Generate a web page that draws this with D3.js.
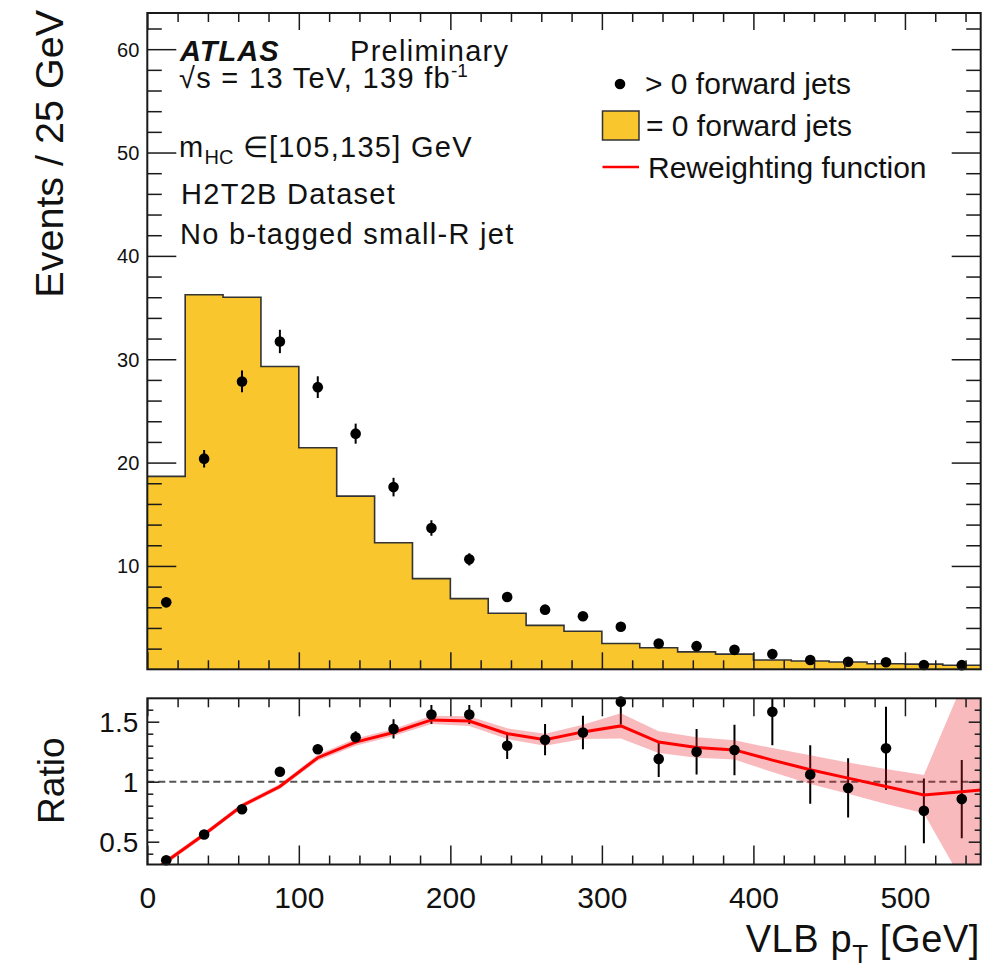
<!DOCTYPE html>
<html>
<head>
<meta charset="utf-8">
<script src="https://cdn.jsdelivr.net/npm/d3@7"></script>
<style>
  html, body { margin: 0; padding: 0; background: #fff; }
  svg { display: block; font-family: "Liberation Sans", Arial, Helvetica, sans-serif; }
</style>
</head>
<body>
<svg id="chart" width="1001" height="968"></svg>
<script>
// ---------------- data ----------------
// bin centres of the 25 GeV wide VLB pT bins
const binCenters = [12.5, 37.5, 62.5, 87.5, 112.5, 137.5, 162.5, 187.5, 212.5, 237.5, 262.5,
                    287.5, 312.5, 337.5, 362.5, 387.5, 412.5, 437.5, 462.5, 487.5, 512.5, 537.5];
const binWidth = 25;

// events with = 0 forward jets (filled histogram)
const zeroFwd = [18.67, 36.24, 36.0, 29.3, 21.44, 16.76, 12.25, 8.77, 6.84, 5.42, 4.25,
                 3.68, 2.5, 2.08, 1.69, 1.47, 0.9, 0.8, 0.7, 0.54, 0.5, 0.39];

// events with > 0 forward jets (points) and their uncertainties
const gtZeroFwd = [6.48, 20.38, 27.85, 31.72, 27.3, 22.8, 17.63, 13.67, 10.64, 6.99, 5.77,
                   5.14, 4.12, 2.5, 2.24, 1.88, 1.47, 0.9, 0.73, 0.68, 0.41, 0.4];
const gtZeroErr = [0.45, 0.85, 1.05, 1.13, 1.05, 0.97, 0.9, 0.75, 0.6, 0.45, 0.4,
                   0.38, 0.35, 0.3, 0.28, 0.25, 0.22, 0.2, 0.18, 0.18, 0.15, 0.13];

// ratio (> 0 / = 0) and its uncertainty
const ratio = [0.345, 0.56, 0.77, 1.083, 1.27, 1.37, 1.44, 1.56, 1.56, 1.30, 1.35,
               1.41, 1.667, 1.19, 1.25, 1.264, 1.583, 1.06, 0.948, 1.278, 0.757, 0.855];
const ratioErr = [0.03, 0.03, 0.03, 0.03, 0.04, 0.05, 0.08, 0.08, 0.08, 0.11, 0.13,
                  0.14, 0.19, 0.15, 0.19, 0.21, 0.28, 0.243, 0.247, 0.347, 0.27, 0.326];

// reweighting function nodes with its uncertainty band
const fitX    = [0, 12.5, 37.5, 62.5, 87.5, 112.5, 137.5, 162.5, 187.5, 212.5, 237.5, 262.5,
                 287.5, 312.5, 337.5, 362.5, 387.5, 412.5, 437.5, 462.5, 487.5, 512.5, 537.5, 550];
const fitVal  = [0.215, 0.335, 0.56, 0.80, 0.96, 1.20, 1.33, 1.41, 1.515, 1.505, 1.40, 1.35,
                 1.415, 1.465, 1.33, 1.285, 1.265, 1.18, 1.10, 1.03, 0.96, 0.89, 0.917, 0.93];
const fitLow  = [0.195, 0.315, 0.54, 0.78, 0.94, 1.175, 1.30, 1.38, 1.48, 1.465, 1.355, 1.30,
                 1.355, 1.36, 1.24, 1.20, 1.185, 1.08, 0.98, 0.90, 0.815, 0.737, 0.18, -0.1];
const fitHigh = [0.235, 0.355, 0.58, 0.82, 0.98, 1.225, 1.36, 1.44, 1.55, 1.545, 1.445, 1.40,
                 1.475, 1.57, 1.42, 1.37, 1.345, 1.28, 1.22, 1.16, 1.105, 1.056, 1.80, 2.2];

// axis ticks
const xMajor = [0, 100, 200, 300, 400, 500];
const xMinor = [20, 40, 60, 80, 120, 140, 160, 180, 220, 240, 260, 280, 320, 340, 360, 380,
                420, 440, 460, 480, 520, 540];
const yTopMajor = [10, 20, 30, 40, 50, 60];
const yTopMinor = [2, 4, 6, 8, 12, 14, 16, 18, 22, 24, 26, 28, 32, 34, 36, 38, 42, 44, 46, 48,
                   52, 54, 56, 58, 62];
const yRatMajor = [0.5, 1, 1.5];
const yRatMinor = [0.4, 0.6, 0.7, 0.8, 0.9, 1.1, 1.2, 1.3, 1.4, 1.6];
const yRatLabels = ["0.5", "1", "1.5"];

// ---------------- layout ----------------
const frameL = 147.3, frameR = 980.7;
const topP = { top: 13, bottom: 669.3 };
const ratP = { top: 698.3, bottom: 864.5 };

const x = d3.scaleLinear().domain([0, 550]).range([frameL, frameR]);
const yTop = d3.scaleLinear().domain([0, 63.5]).range([topP.bottom, topP.top]);
const yRat = d3.scaleLinear().domain([0.31, 1.695]).range([ratP.bottom, ratP.top]);

const svg = d3.select("#chart");
const ink = "#1a1a1a";
const yellow = "#f9c62d";

const defs = svg.append("defs");
defs.append("clipPath").attr("id", "clipTop").append("rect")
  .attr("x", frameL).attr("y", topP.top).attr("width", frameR - frameL).attr("height", topP.bottom - topP.top);
defs.append("clipPath").attr("id", "clipRat").append("rect")
  .attr("x", frameL).attr("y", ratP.top).attr("width", frameR - frameL).attr("height", ratP.bottom - ratP.top);

// ---------------- top panel ----------------
const gTop = svg.append("g").attr("clip-path", "url(#clipTop)");

const histPts = zeroFwd.map((v, i) => ({ lo: binCenters[i] - binWidth / 2, v }));
histPts.push({ lo: binCenters[binCenters.length - 1] + binWidth / 2, v: zeroFwd[zeroFwd.length - 1] });

gTop.append("path")
  .datum(histPts)
  .attr("fill", yellow)
  .attr("d", d3.area().curve(d3.curveStepAfter).x(d => x(d.lo)).y0(yTop(0)).y1(d => yTop(d.v)));
gTop.append("path")
  .datum(histPts)
  .attr("fill", "none").attr("stroke", "#333").attr("stroke-width", 1.6)
  .attr("d", d3.line().curve(d3.curveStepAfter).x(d => x(d.lo)).y(d => yTop(d.v)));

gTop.selectAll("line.err").data(binCenters).join("line")
  .attr("class", "err")
  .attr("x1", d => x(d)).attr("x2", d => x(d))
  .attr("y1", (d, i) => yTop(gtZeroFwd[i] - gtZeroErr[i]))
  .attr("y2", (d, i) => yTop(gtZeroFwd[i] + gtZeroErr[i]))
  .attr("stroke", "#000").attr("stroke-width", 2);

svg.append("g").selectAll("circle").data(binCenters).join("circle")
  .attr("cx", d => x(d)).attr("cy", (d, i) => yTop(gtZeroFwd[i]))
  .attr("r", 5.3).attr("fill", "#000");

// ---------------- ratio panel ----------------
const gRat = svg.append("g").attr("clip-path", "url(#clipRat)");

gRat.append("line")
  .attr("x1", frameL).attr("x2", frameR).attr("y1", yRat(1)).attr("y2", yRat(1))
  .attr("stroke", "#555").attr("stroke-width", 2).attr("stroke-dasharray", "7,4");

gRat.selectAll("line.err").data(binCenters).join("line")
  .attr("class", "err")
  .attr("x1", d => x(d)).attr("x2", d => x(d))
  .attr("y1", (d, i) => yRat(ratio[i] - ratioErr[i]))
  .attr("y2", (d, i) => yRat(ratio[i] + ratioErr[i]))
  .attr("stroke", "#000").attr("stroke-width", 2);

svg.append("g").selectAll("circle").data(binCenters).join("circle")
  .attr("cx", d => x(d)).attr("cy", (d, i) => yRat(ratio[i]))
  .attr("r", 5.3).attr("fill", "#000");

// uncertainty band of the reweighting function, drawn translucent over the points
gRat.append("path")
  .datum(fitX)
  .attr("fill", "rgba(235,25,40,0.3)")
  .attr("d", d3.area().x(d => x(d)).y0((d, i) => yRat(fitLow[i])).y1((d, i) => yRat(fitHigh[i])));

gRat.append("path")
  .datum(fitX)
  .attr("fill", "none").attr("stroke", "#ff0000").attr("stroke-width", 3)
  .attr("d", d3.line().x(d => x(d)).y((d, i) => yRat(fitVal[i])));

// ---------------- axes and frames ----------------
function strip(g) {
  g.select(".domain").remove();
  g.selectAll(".tick line").attr("stroke", ink).attr("stroke-width", 1.5);
  return g;
}
function tickSet(axisFn, scale, vals, len, tx, ty, labels) {
  const a = axisFn(scale).tickValues(vals).tickSizeInner(-len).tickSizeOuter(0);
  if (!labels) a.tickFormat("");
  const g = svg.append("g").attr("transform", `translate(${tx},${ty})`).call(a);
  return strip(g);
}

// top panel ticks
tickSet(d3.axisBottom, x, xMajor, 17, 0, topP.bottom);
tickSet(d3.axisBottom, x, xMinor, 9, 0, topP.bottom);
tickSet(d3.axisTop, x, xMajor, 17, 0, topP.top);
tickSet(d3.axisTop, x, xMinor, 9, 0, topP.top);
const yl = tickSet(d3.axisLeft, yTop, yTopMajor, 29, frameL, 0, true);
yl.selectAll(".tick text").attr("x", -8).attr("dy", "0.35em")
  .attr("font-size", 20).attr("fill", "#111").attr("font-family", null);
tickSet(d3.axisLeft, yTop, yTopMinor, 14.5, frameL, 0);
tickSet(d3.axisRight, yTop, yTopMajor, 29, frameR, 0);
tickSet(d3.axisRight, yTop, yTopMinor, 14.5, frameR, 0);

// ratio panel ticks
const xb = tickSet(d3.axisBottom, x, xMajor, 19, 0, ratP.bottom, true);
xb.selectAll(".tick text").attr("y", 22).attr("dy", "0.71em")
  .attr("font-size", 30).attr("fill", "#111").attr("font-family", null);
tickSet(d3.axisBottom, x, xMinor, 9, 0, ratP.bottom);
tickSet(d3.axisTop, x, xMajor, 18, 0, ratP.top);
tickSet(d3.axisTop, x, xMinor, 9, 0, ratP.top);
const yr = tickSet(d3.axisLeft, yRat, yRatMajor, 12, frameL, 0, true);
yr.selectAll(".tick text").text((d, i) => yRatLabels[i]).attr("x", -9).attr("dy", "0.36em")
  .attr("font-size", 28).attr("fill", "#111").attr("font-family", null);
tickSet(d3.axisLeft, yRat, yRatMinor, 6, frameL, 0);
tickSet(d3.axisRight, yRat, yRatMajor, 12, frameR, 0);
tickSet(d3.axisRight, yRat, yRatMinor, 6, frameR, 0);

// frames
[topP, ratP].forEach(p => {
  svg.append("rect")
    .attr("x", frameL).attr("y", p.top).attr("width", frameR - frameL).attr("height", p.bottom - p.top)
    .attr("fill", "none").attr("stroke", ink).attr("stroke-width", 2);
});

// ---------------- axis titles ----------------
svg.append("text")
  .attr("transform", "translate(63,10) rotate(-90)")
  .attr("text-anchor", "end").attr("font-size", 39.5).attr("fill", "#111")
  .text("Events / 25 GeV");

svg.append("text")
  .attr("transform", "translate(64,737.5) rotate(-90)")
  .attr("text-anchor", "end").attr("font-size", 37).attr("fill", "#111")
  .text("Ratio");

const xt = svg.append("text")
  .attr("x", 980).attr("y", 951.5).attr("text-anchor", "end")
  .attr("font-size", 38).attr("letter-spacing", 0.6).attr("fill", "#111");
xt.append("tspan").text("VLB p");
xt.append("tspan").attr("font-size", 26).attr("dy", 11).text("T");
xt.append("tspan").attr("dy", -11).text(" [GeV]");

// ---------------- labels ----------------
const lab = svg.append("g").attr("fill", "#111").attr("font-size", 29).attr("letter-spacing", 1.3);
lab.append("text").attr("x", 180).attr("y", 60.5)
  .attr("font-weight", "bold").attr("font-style", "italic").attr("letter-spacing", 1).text("ATLAS");
lab.append("text").attr("x", 350).attr("y", 60.5).text("Preliminary");

const rs = lab.append("text").attr("x", 179).attr("y", 87.5);
rs.append("tspan").text("\u221As = 13 TeV, 139 fb");
rs.append("tspan").attr("font-size", 19).attr("dy", -11).attr("letter-spacing", 0).text("-1");

const mh = lab.append("text").attr("x", 179).attr("y", 156.7);
mh.append("tspan").text("m");
mh.append("tspan").attr("font-size", 20).attr("dy", 7).attr("letter-spacing", 0).text("HC");
mh.append("tspan").attr("dy", -7).text(" \u2208[105,135] GeV");

lab.append("text").attr("x", 181).attr("y", 203.5).text("H2T2B Dataset");
lab.append("text").attr("x", 180).attr("y", 243.5).text("No b-tagged small-R jet");

// ---------------- legend ----------------
const leg = svg.append("g").attr("font-size", 30).attr("fill", "#111");
leg.append("circle").attr("cx", 620).attr("cy", 84).attr("r", 5.3).attr("fill", "#000");
leg.append("text").attr("x", 645).attr("y", 93.5).text("> 0 forward jets");
leg.append("rect").attr("x", 602.5).attr("y", 111).attr("width", 36.5).attr("height", 29)
  .attr("fill", yellow).attr("stroke", "#333").attr("stroke-width", 1.5);
leg.append("text").attr("x", 646).attr("y", 135.5).text("= 0 forward jets");
leg.append("line").attr("x1", 602.5).attr("x2", 639).attr("y1", 167).attr("y2", 167)
  .attr("stroke", "#ff0000").attr("stroke-width", 2.5);
leg.append("text").attr("x", 648).attr("y", 178).text("Reweighting function");
</script>
</body>
</html>
